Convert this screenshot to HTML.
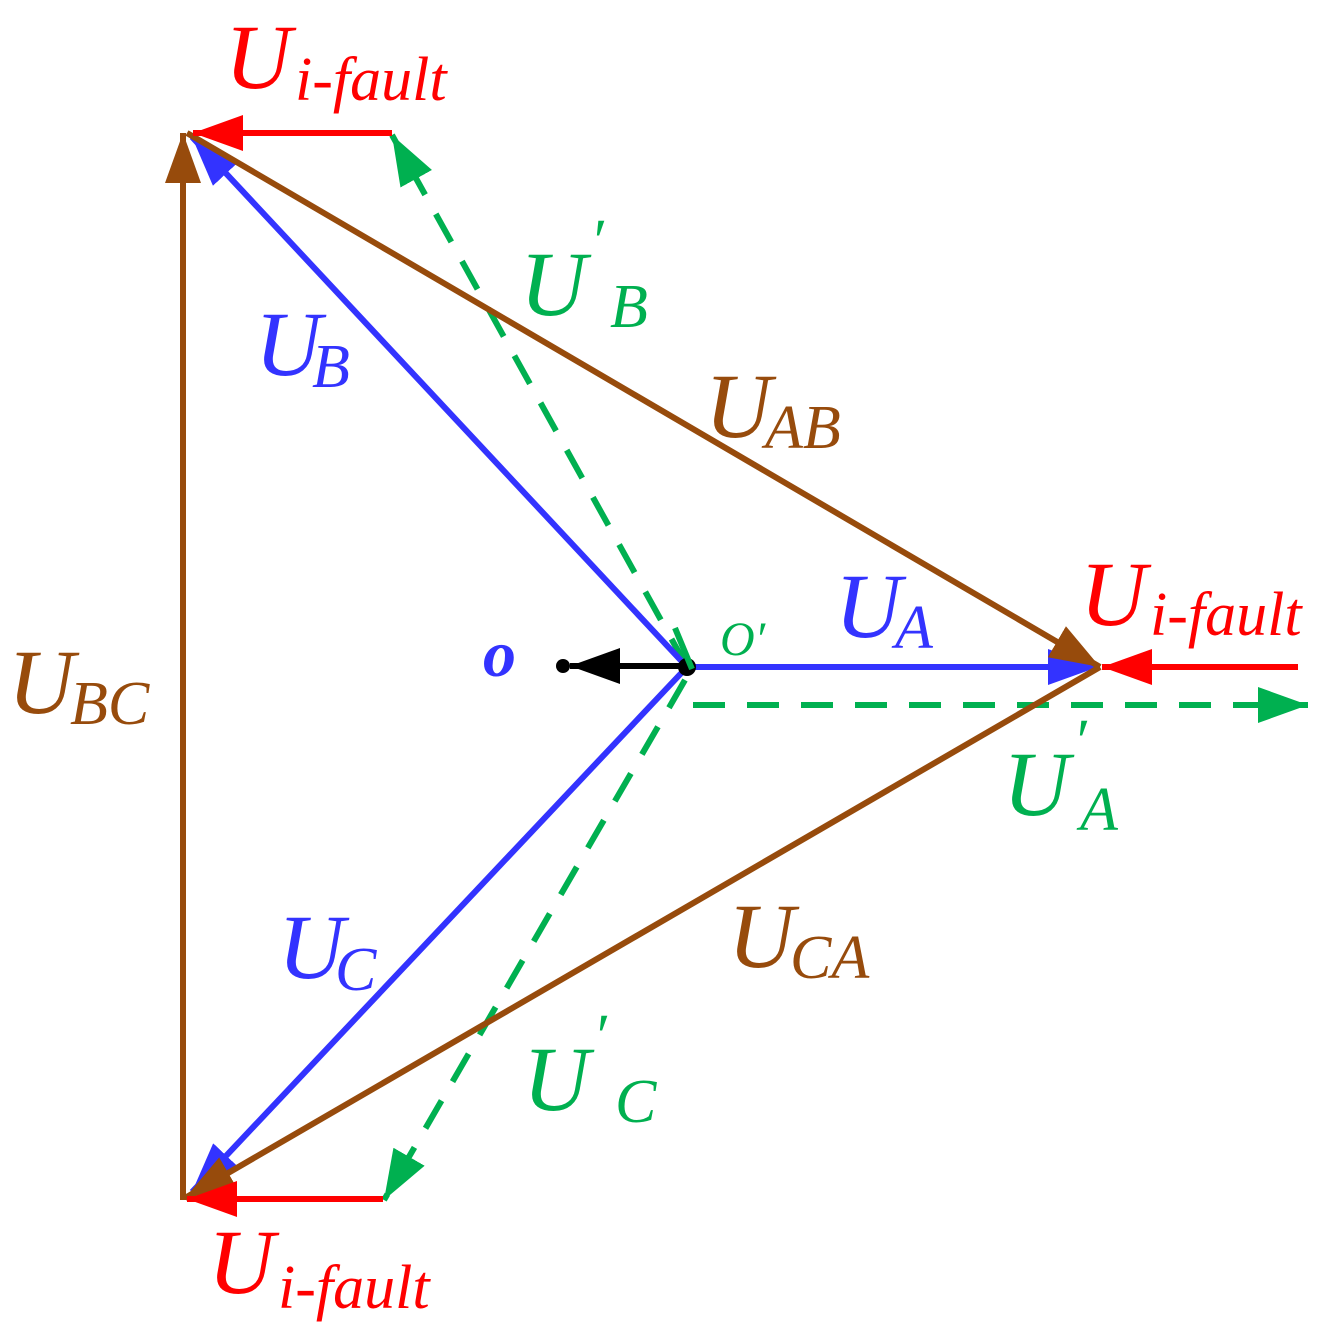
<!DOCTYPE html>
<html><head><style>body{margin:0;background:#fff}svg{display:block}text{font-family:"Liberation Serif",serif;font-style:italic}</style></head><body>
<svg width="1332" height="1338" viewBox="0 0 1332 1338" xmlns="http://www.w3.org/2000/svg">
<defs>
<marker id="mb" markerUnits="userSpaceOnUse" markerWidth="60" markerHeight="40" refX="50" refY="18" orient="auto"><path d="M0,0 L50,18 L0,36 Z" fill="#3333ff"/></marker>
<marker id="mr" markerUnits="userSpaceOnUse" markerWidth="60" markerHeight="40" refX="50" refY="18" orient="auto"><path d="M0,0 L50,18 L0,36 Z" fill="#ff0000"/></marker>
<marker id="mn" markerUnits="userSpaceOnUse" markerWidth="60" markerHeight="40" refX="50" refY="18" orient="auto"><path d="M0,0 L50,18 L0,36 Z" fill="#974b0c"/></marker>
<marker id="mg" markerUnits="userSpaceOnUse" markerWidth="60" markerHeight="40" refX="50" refY="18" orient="auto"><path d="M0,0 L50,18 L0,36 Z" fill="#00b050"/></marker>
<marker id="mk" markerUnits="userSpaceOnUse" markerWidth="60" markerHeight="40" refX="50" refY="18" orient="auto"><path d="M0,0 L50,18 L0,36 Z" fill="#000"/></marker>
</defs>
<g stroke-width="6" fill="none">
<g stroke="#00b050" stroke-dasharray="32,22">
<line x1="687" y1="667" x2="392" y2="135" marker-end="url(#mg)"/>
<line x1="685" y1="680" x2="384" y2="1200" marker-end="url(#mg)"/>
<line x1="693" y1="705" x2="1308" y2="705" marker-end="url(#mg)"/>
</g>
<g stroke="#3333ff">
<line x1="687" y1="667" x2="1098" y2="667" marker-end="url(#mb)"/>
<line x1="687" y1="667" x2="192" y2="137" marker-end="url(#mb)"/>
<line x1="687" y1="667" x2="192" y2="1192" marker-end="url(#mb)"/>
</g>
<g stroke="#974b0c">
<line x1="183" y1="1200" x2="183" y2="133" marker-end="url(#mn)"/>
<line x1="187" y1="133" x2="1100" y2="667" marker-end="url(#mn)"/>
<line x1="1100" y1="667" x2="185" y2="1198" marker-end="url(#mn)"/>
</g>
<g stroke="#ff0000">
<line x1="392" y1="133" x2="193" y2="133" marker-end="url(#mr)"/>
<line x1="1298" y1="667" x2="1102" y2="667" marker-end="url(#mr)"/>
<line x1="383" y1="1199" x2="187" y2="1199" marker-end="url(#mr)"/>
</g>
<line x1="687" y1="666" x2="570" y2="666" stroke="#000" marker-end="url(#mk)"/>
</g>
<circle cx="563" cy="666" r="7" fill="#000"/>
<circle cx="687" cy="667" r="9" fill="#000"/>
<line x1="675" y1="628" x2="692" y2="669" stroke="#00b050" stroke-width="6"/>

<g font-size="92">
<g fill="#ff0000">
<text x="225" y="88">U<tspan x="295" y="100" font-size="62">i-fault</tspan></text>
<text x="1080" y="625">U<tspan x="1150" y="635" font-size="62">i-fault</tspan></text>
<text x="208" y="1293">U<tspan x="278" y="1308" font-size="62">i-fault</tspan></text>
</g>
<g fill="#3333ff">
<text x="255" y="375">U<tspan x="312" y="387" font-size="62">B</tspan></text>
<text x="835" y="637">U<tspan x="895" y="648" font-size="62">A</tspan></text>
<text x="278" y="978">U<tspan x="335" y="990" font-size="62">C</tspan></text>
<text x="483" y="676" font-size="66" font-weight="bold">o</text>
</g>
<g fill="#974b0c">
<text x="705" y="437">U<tspan x="765" y="448" font-size="62">AB</tspan></text>
<text x="8" y="713">U<tspan x="70" y="724" font-size="62">BC</tspan></text>
<text x="728" y="967">U<tspan x="790" y="978" font-size="62">CA</tspan></text>
</g>
<g fill="#00b050">
<text x="520" y="315">U<tspan x="590" y="262" font-size="62">′</tspan><tspan x="610" y="327" font-size="62">B</tspan></text>
<text x="1003" y="815">U<tspan x="1073" y="762" font-size="62">′</tspan><tspan x="1080" y="830" font-size="62">A</tspan></text>
<text x="523" y="1110">U<tspan x="593" y="1057" font-size="62">′</tspan><tspan x="615" y="1122" font-size="62">C</tspan></text>
<text x="720" y="655" font-size="48">O′</text>
</g>
</g>
</svg>
</body></html>
